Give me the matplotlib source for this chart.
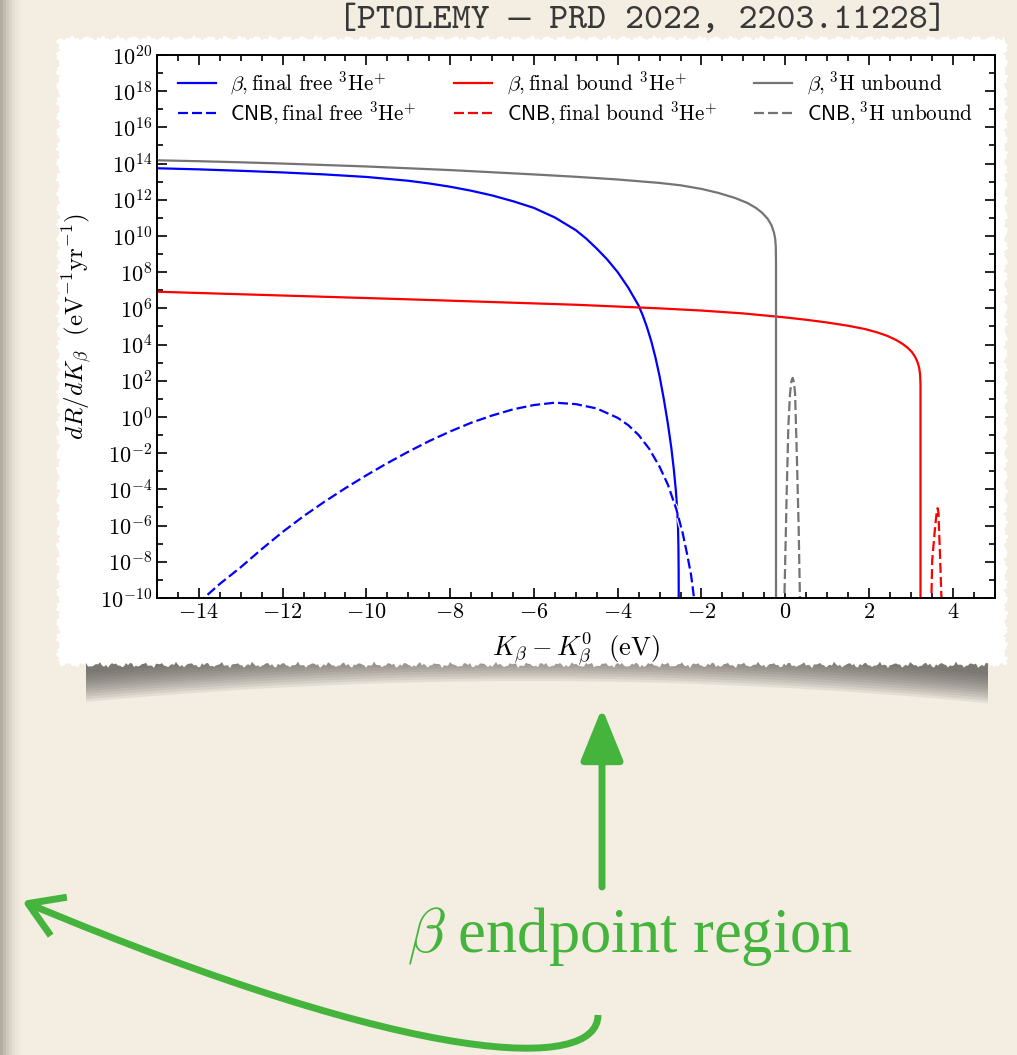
import numpy as np
import matplotlib.pyplot as plt
from matplotlib.patches import Polygon, Rectangle, FancyArrowPatch
from matplotlib.path import Path
from matplotlib.ticker import MultipleLocator, NullFormatter
import matplotlib.patheffects as pe

plt.rcParams['font.family'] = ['cmr10', 'DejaVu Serif']
plt.rcParams['mathtext.fontset'] = 'cm'
plt.rcParams['axes.formatter.use_mathtext'] = True
plt.rcParams['axes.unicode_minus'] = True

# %%
# values: x = K_beta - K_beta^0 (eV), log10 of dR/dK
beta_free_x = [-15.0, -14.0, -13.0, -12.0, -11.0, -10.0, -9.0, -8.5, -8.0, -7.5, -7.0, -6.5, -6.0,
               -5.5, -5.0, -4.75, -4.5, -4.25, -4.0, -3.75, -3.5, -3.4, -3.3, -3.2, -3.1, -3.0,
               -2.9, -2.8, -2.72, -2.66, -2.61, -2.58, -2.56, -2.55, -2.545, -2.54]
beta_free_log = [13.74, 13.68, 13.6, 13.51, 13.4, 13.26, 13.05, 12.9, 12.72, 12.5, 12.24, 11.92, 11.55,
                 11.02, 10.32, 9.85, 9.3, 8.7, 8.0, 7.15, 6.15, 5.6, 4.95, 4.2, 3.3, 2.25,
                 1.0, -0.4, -1.7, -2.9, -4.1, -5.1, -6.1, -7.2, -8.5, -12.0]

beta_bound_x = [-15.0, -13.0, -11.0, -9.0, -7.0, -5.0, -3.0, -2.0, -1.0, 0.0, 0.5, 1.0, 1.5, 1.9,
                2.2, 2.45, 2.65, 2.8, 2.92, 3.02, 3.1, 3.16, 3.2, 3.22, 3.23, 3.23]
beta_bound_log = [6.92, 6.78, 6.64, 6.5, 6.35, 6.2, 6.0, 5.88, 5.72, 5.5, 5.37, 5.22, 5.04, 4.86,
                  4.67, 4.47, 4.25, 4.04, 3.83, 3.6, 3.33, 3.02, 2.7, 2.35, 1.8, -12.0]

beta_unb_x = [-15.0, -14.0, -13.0, -12.0, -11.0, -10.0, -9.0, -8.0, -7.0, -6.0, -5.0, -4.0, -3.0,
              -2.5, -2.0, -1.6, -1.2, -0.9, -0.7, -0.55, -0.42, -0.33, -0.27, -0.24, -0.225, -0.22, -0.22]
beta_unb_log = [14.18, 14.13, 14.07, 14.0, 13.92, 13.84, 13.74, 13.64, 13.52, 13.4, 13.27, 13.12, 12.93,
                12.8, 12.6, 12.38, 12.1, 11.82, 11.55, 11.28, 10.95, 10.6, 10.2, 9.85, 9.4, 8.5, -12.0]

cnb_free_x = [-14.05, -13.88, -13.5, -13.0, -12.5, -12.0, -11.5, -11.0, -10.5, -10.0, -9.5, -9.0,
              -8.5, -8.0, -7.5, -7.0, -6.5, -6.0, -5.5, -5.0, -4.5, -4.0, -3.75, -3.5, -3.25,
              -3.0, -2.8, -2.6, -2.45, -2.35, -2.25, -2.18, -2.15]
cnb_free_log = [-10.32, -10.0, -9.22, -8.3, -7.3, -6.35, -5.48, -4.68, -3.93, -3.22, -2.55, -1.92,
                -1.33, -0.8, -0.32, 0.08, 0.42, 0.66, 0.79, 0.71, 0.47, -0.05, -0.45, -1.0, -1.75,
                -2.75, -3.75, -5.1, -6.4, -7.5, -8.7, -9.96, -10.5]

cnb_bound_x = [3.48, 3.49, 3.51, 3.58, 3.62, 3.64, 3.66, 3.67, 3.70, 3.73, 3.74]
cnb_bound_log = [-10.5, -10.0, -7.9, -6.05, -5.2, -5.04, -5.3, -6.05, -7.9, -10.0, -10.5]

cnb_unb_x = [-0.04, -0.02, 0.035, 0.075, 0.115, 0.15, 0.18, 0.21, 0.235, 0.28, 0.32, 0.35, 0.36]
cnb_unb_log = [-10.5, -10.0, -4.2, -0.5, 1.3, 2.0, 2.16, 1.9, 1.3, -2.36, -6.05, -9.8, -10.5]

labels = [r'$\beta, \mathrm{final\ free}\ {}^{3}\mathrm{He}^{+}$',
          r'$\mathsf{CNB}, \mathrm{final\ free}\ {}^{3}\mathrm{He}^{+}$',
          r'$\beta, \mathrm{final\ bound}\ {}^{3}\mathrm{He}^{+}$',
          r'$\mathsf{CNB}, \mathrm{final\ bound}\ {}^{3}\mathrm{He}^{+}$',
          r'$\beta, {}^{3}\mathrm{H\ unbound}$',
          r'$\mathsf{CNB}, {}^{3}\mathrm{H\ unbound}$']

# %%
beige = '#f3ede2'
green = '#45b43c'
fig = plt.figure(figsize=(10.17, 10.55), dpi=100)
fig.patch.set_facecolor(beige)

bg = fig.add_axes([0, 0, 1, 1], zorder=0)
bg.set_xlim(0, 1017)
bg.set_ylim(1055, 0)
bg.axis('off')

# left page edge
for i, c in enumerate(['#b3aca0', '#c3bcb0', '#d0c9bd', '#dad4c8', '#e3ddd2', '#eae4d9', '#efe9de']):
    bg.add_patch(Rectangle((i * 3, 0), 3, 1055, color=c, lw=0))

# shadow under the paper
sx = np.linspace(86, 988, 200)
for k in range(12):
    ybot = 703 - 22 * (1 - ((sx - 530) / 455) ** 2) - k * 2.6
    verts = list(zip(sx, np.full_like(sx, 655))) + list(zip(sx[::-1], ybot[::-1]))
    bg.add_patch(Polygon(verts, closed=True, color='#44423f', alpha=0.085, lw=0))

# torn white paper
def wig(t, s):
    return 1.6 * np.sin(0.41 * t + s) + 1.1 * np.sin(1.9 * t + 2 * s) + 0.7 * np.sin(5.3 * t + s)

tx = np.arange(60, 1006, 2.0)
ty = np.arange(40, 666, 2.0)
paper = (list(zip(tx, 38 + wig(tx, 0.3))) + list(zip(1006 + wig(ty, 1.1), ty)) +
         list(zip(tx[::-1], 665 + wig(tx[::-1], 2.0))) + list(zip(58 + wig(ty[::-1], 0.7), ty[::-1])))
bg.add_patch(Polygon(paper, closed=True, color='white', lw=0))

bg.text(642, 21, '[PTOLEMY \u2014 PRD 2022, 2203.11228]', family=['cmtt10', 'Liberation Mono'],
        fontsize=26, ha='center', va='center', color='#383838')
bg.text(630, 936, r'$\beta$ endpoint region', family='Liberation Serif', fontsize=45,
        ha='center', va='center', color=green)

bg.add_patch(FancyArrowPatch((602, 887), (602, 708), arrowstyle='-|>,head_length=1.6,head_width=0.65',
                             mutation_scale=20, lw=5, color=green, shrinkA=0, shrinkB=0))
curve = Path([(598, 1015), (598, 1072), (420, 1068), (22, 901)],
             [Path.MOVETO, Path.CURVE4, Path.CURVE4, Path.CURVE4])
bg.add_patch(FancyArrowPatch(path=curve, arrowstyle='->,head_length=1.2,head_width=0.75',
                             mutation_scale=20, lw=5, color=green, capstyle='butt'))

# %%
ax = fig.add_axes([0.1544, 0.4332, 0.8236, 0.5147], zorder=2)
halo = [pe.Stroke(linewidth=3.4, foreground='white'), pe.Normal()]
dash = (0, (4.5, 1.8))
ax.semilogy(beta_free_x, 10.0 ** np.array(beta_free_log), color='#0000ff', lw=1.6, label=labels[0])
ax.semilogy(cnb_free_x, 10.0 ** np.array(cnb_free_log), color='#0000ff', lw=1.6, ls=dash,
            path_effects=halo, label=labels[1])
ax.semilogy(beta_bound_x, 10.0 ** np.array(beta_bound_log), color='#ff0000', lw=1.6, label=labels[2])
ax.semilogy(cnb_bound_x, 10.0 ** np.array(cnb_bound_log), color='#ff0000', lw=1.6, ls=dash,
            path_effects=halo, label=labels[3])
ax.semilogy(beta_unb_x, 10.0 ** np.array(beta_unb_log), color='#747474', lw=1.6, label=labels[4])
ax.semilogy(cnb_unb_x, 10.0 ** np.array(cnb_unb_log), color='#747474', lw=1.6, ls=dash,
            path_effects=halo, label=labels[5])

ax.set_xlim(-15, 5)
ax.set_ylim(1e-10, 1e20)
ax.set_yticks([10.0 ** k for k in range(-10, 21, 2)])
ax.set_yticks([10.0 ** k for k in range(-9, 20, 2)], minor=True)
ax.yaxis.set_minor_formatter(NullFormatter())
ax.xaxis.set_major_locator(MultipleLocator(2))
ax.xaxis.set_minor_locator(MultipleLocator(0.5))
ax.tick_params(which='both', direction='in', top=True, right=True, labelsize=16, width=1.2)
ax.tick_params(which='major', length=7)
ax.tick_params(which='minor', length=4)
for s in ax.spines.values():
    s.set_linewidth(1.4)

ax.set_xlabel(r'$K_\beta - K_\beta^0\ \ (\mathrm{eV})$', fontsize=19, labelpad=6)
ax.set_ylabel(r'$dR/dK_\beta\ \ (\mathrm{eV}^{-1}\mathrm{yr}^{-1})$', fontsize=18, labelpad=4)

ax.legend(loc='upper left', bbox_to_anchor=(0.002, 1.008), ncol=3, frameon=False, fontsize=15.2,
          handlelength=1.8, columnspacing=1.75, handletextpad=0.7, labelspacing=0.12, borderpad=0.4)

fig.savefig('out.png', dpi=100, facecolor=beige)
